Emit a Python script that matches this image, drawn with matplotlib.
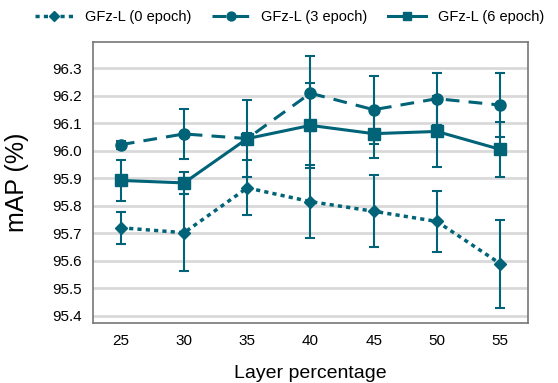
import matplotlib
matplotlib.use("Agg")
import matplotlib.pyplot as plt
from matplotlib.lines import Line2D

plt.rcParams['font.family'] = ['Liberation Sans', 'DejaVu Sans']

layers = [25, 30, 35, 40, 45, 50, 55]

map_0ep = [95.720, 95.702, 95.865, 95.815, 95.780, 95.743, 95.590]
err_0ep = [0.058, 0.140, 0.100, 0.132, 0.130, 0.110, 0.160]

map_3ep = [96.022, 96.061, 96.044, 96.209, 96.149, 96.189, 96.166]
err_3ep = [0.015, 0.090, 0.020, 0.136, 0.124, 0.094, 0.117]

map_6ep = [95.892, 95.883, 96.044, 96.092, 96.062, 96.070, 96.005]
err_6ep = [0.075, 0.040, 0.140, 0.154, 0.090, 0.130, 0.100]

labels = ['GFz-L (0 epoch)', 'GFz-L (3 epoch)', 'GFz-L (6 epoch)']
yticks = [95.4, 95.5, 95.6, 95.7, 95.8, 95.9, 96.0, 96.1, 96.2, 96.3]

color = '#006378'
styles = [(0, (1.2, 1.2)), (0, (4.5, 3)), '-']
widths = [2.5, 2.2, 2.2]
markers = ['D', 'o', 's']
msizes = [6, 8, 8]

fig = plt.figure(figsize=(5.58, 3.83), dpi=100)
ax = fig.add_axes([0.1667, 0.1567, 0.7793, 0.7336])

handles = []
for vals, errs, ls, lw, mk, ms, lab in zip([map_0ep, map_3ep, map_6ep],
                                           [err_0ep, err_3ep, err_6ep],
                                           styles, widths, markers, msizes, labels):
    ax.errorbar(layers, vals, yerr=errs, color=color, linestyle=ls, linewidth=lw,
                marker=mk, markersize=ms, capsize=3.5, elinewidth=1.5,
                capthick=1.5, zorder=3)
    handles.append(Line2D([], [], color=color, linestyle=ls, linewidth=lw,
                          marker=mk, markersize=ms * 0.8, label=lab))

ax.set_xlim(22.8, 57.2)
ax.set_ylim(95.374, 96.395)
ax.set_xticks(layers)
ax.set_yticks(yticks)
ax.set_yticklabels([f'{v:.1f}' for v in yticks])
ax.tick_params(axis='both', length=0, labelsize=11, pad=8)
ax.grid(axis='y', color='#d9d9d9', linewidth=2)
ax.set_axisbelow(True)
for s in ax.spines.values():
    s.set_color('#777777')
    s.set_linewidth(1.2)

ax.set_xlabel('Layer percentage', fontsize=14, labelpad=12)
ax.set_ylabel('mAP (%)', fontsize=18, labelpad=17)

fig.legend(handles=handles, loc='center right', bbox_to_anchor=(0.985, 0.955),
           ncol=3, frameon=False, fontsize=10.5, handlelength=2.6,
           columnspacing=1.4, handletextpad=0.8, borderaxespad=0)

fig.savefig('out.png', dpi=100)
